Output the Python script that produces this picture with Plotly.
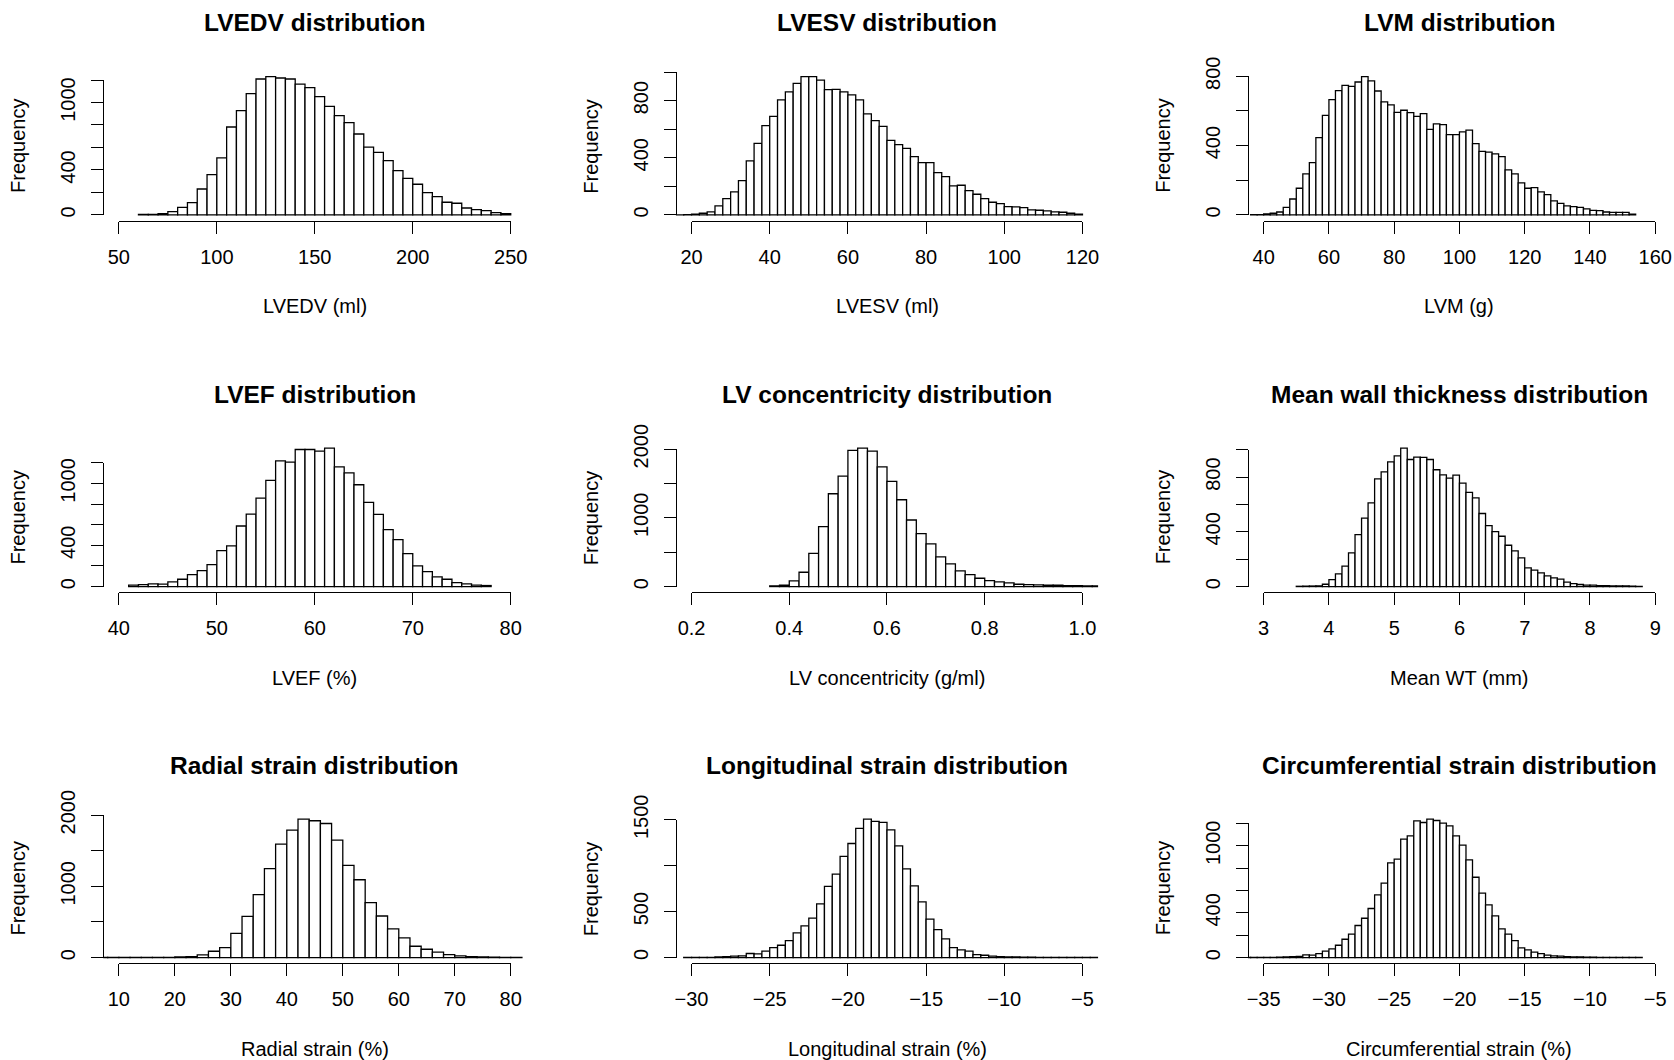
import plotly.graph_objects as go

W, H = 1674, 1060
FONT = "Liberation Sans, Arial, Helvetica, sans-serif"
MINUS = "\u2212"

# ---------------- data (histogram counts) ----------------
lvedv_start, lvedv_width = 60, 5
lvedv_counts = [5, 5, 12, 30, 68, 110, 231, 358, 507, 782, 927, 1079, 1209, 1230, 1218,
                1209, 1164, 1132, 1052, 966, 883, 821, 720, 604, 557, 483, 394, 326, 273,
                199, 163, 113, 104, 62, 47, 39, 21, 12]

lvesv_start, lvesv_width = 16, 2
lvesv_counts = [1, 2, 5, 12, 21, 63, 114, 161, 240, 378, 501, 625, 690, 805, 861, 921, 968,
                968, 944, 877, 879, 861, 840, 805, 707, 660, 620, 522, 492, 466, 408, 366,
                366, 296, 268, 203, 208, 170, 145, 114, 89, 79, 58, 56, 51, 35, 33, 28, 21,
                19, 12, 5]

lvm_start, lvm_width = 36, 2
lvm_counts = [2, 2, 6, 10, 17, 44, 92, 154, 237, 302, 446, 575, 665, 717, 748, 742, 767, 798,
              773, 715, 652, 635, 592, 604, 590, 569, 585, 494, 525, 521, 463, 463, 479, 490,
              412, 367, 363, 352, 337, 260, 237, 185, 154, 158, 133, 117, 81, 67, 52, 48, 44,
              35, 27, 25, 17, 15, 15, 15, 4]

lvef_start, lvef_width = 41, 1
lvef_counts = [13, 19, 26, 23, 45, 71, 116, 155, 213, 348, 394, 587, 703, 858, 1029, 1219,
               1206, 1329, 1329, 1313, 1342, 1161, 1103, 987, 816, 700, 552, 455, 319, 200,
               145, 94, 71, 39, 26, 13, 10]

conc_start, conc_width = 0.36, 0.02
conc_counts = [10, 19, 82, 208, 484, 872, 1351, 1608, 1981, 2015, 1971, 1743, 1530, 1264, 969,
               770, 620, 431, 329, 228, 174, 121, 87, 68, 53, 34, 29, 24, 19, 19, 15, 15, 10, 10]

wt_start, wt_width = 3.5, 0.1
wt_counts = [2, 3, 4, 5, 17, 51, 93, 149, 246, 380, 500, 612, 788, 839, 912, 956, 1012, 929,
             946, 944, 929, 854, 817, 793, 815, 756, 688, 649, 534, 446, 402, 368, 302, 261,
             210, 137, 120, 100, 78, 63, 54, 32, 22, 15, 10, 10, 7, 7, 5, 5, 4, 3, 2]

rad_start, rad_width = 6, 2
rad_counts = [1, 1, 1, 1, 2, 2, 3, 8, 14, 37, 89, 140, 341, 579, 883, 1248, 1593, 1790, 1944,
              1921, 1883, 1650, 1294, 1093, 771, 584, 402, 276, 159, 117, 75, 42, 23, 14, 9,
              5, 3, 2]

lon_start, lon_width = -30.5, 0.5
lon_counts = [2, 2, 3, 3, 7, 11, 15, 18, 44, 40, 69, 109, 134, 185, 269, 345, 429, 585, 774,
              908, 1101, 1242, 1406, 1507, 1482, 1471, 1391, 1217, 966, 781, 607, 418, 305,
              203, 109, 84, 69, 33, 25, 15, 11, 7, 7, 4, 4, 3, 2, 2, 2, 1, 1, 1, 1]

circ_start, circ_width = -36.5, 0.5
circ_counts = [1, 1, 1, 2, 2, 3, 5, 8, 11, 24, 21, 35, 57, 78, 110, 164, 209, 287, 352, 439,
               561, 666, 848, 881, 1060, 1090, 1224, 1209, 1239, 1227, 1203, 1179, 1090, 1006,
               875, 719, 576, 472, 373, 257, 209, 152, 87, 69, 48, 36, 21, 15, 12, 9, 6, 6, 4,
               3, 2, 2, 2, 1, 1, 1, 1]

# ---------------- axis ticks / labels ----------------
lvedv_xticks = [50, 100, 150, 200, 250]
lvesv_xticks = [20, 40, 60, 80, 100, 120]
lvm_xticks = [40, 60, 80, 100, 120, 140, 160]
lvef_xticks = [40, 50, 60, 70, 80]
conc_xticks = [0.2, 0.4, 0.6, 0.8, 1.0]
conc_xlabels = ["0.2", "0.4", "0.6", "0.8", "1.0"]
wt_xticks = [3, 4, 5, 6, 7, 8, 9]
rad_xticks = [10, 20, 30, 40, 50, 60, 70, 80]
lon_xticks = [-30, -25, -20, -15, -10, -5]
circ_xticks = [-35, -30, -25, -20, -15, -10, -5]

yt_1200 = [0, 200, 400, 600, 800, 1000, 1200]
yl_1200 = ["0", "", "400", "", "", "1000", ""]
yt_1000 = [0, 200, 400, 600, 800, 1000]
yl_1000 = ["0", "", "400", "", "800", ""]
yt_800 = [0, 200, 400, 600, 800]
yl_800 = ["0", "", "400", "", "800"]
yt_2000 = [0, 500, 1000, 1500, 2000]
yl_2000 = ["0", "", "1000", "", "2000"]
yt_1500 = [0, 500, 1000, 1500]
yl_1500 = ["0", "500", "", "1500"]


def fmt(v):
    s = f"{v:g}"
    return s.replace("-", MINUS)


panels = [
    dict(title="LVEDV distribution", xlab="LVEDV (ml)", start=lvedv_start, width=lvedv_width,
         counts=lvedv_counts, xlim=(50, 250), xt=lvedv_xticks, xl=[fmt(v) for v in lvedv_xticks],
         yt=yt_1200, yl=yl_1200),
    dict(title="LVESV distribution", xlab="LVESV (ml)", start=lvesv_start, width=lvesv_width,
         counts=lvesv_counts, xlim=(20, 120), xt=lvesv_xticks, xl=[fmt(v) for v in lvesv_xticks],
         yt=yt_1000, yl=yl_1000),
    dict(title="LVM distribution", xlab="LVM (g)", start=lvm_start, width=lvm_width,
         counts=lvm_counts, xlim=(40, 160), xt=lvm_xticks, xl=[fmt(v) for v in lvm_xticks],
         yt=yt_800, yl=yl_800),
    dict(title="LVEF distribution", xlab="LVEF (%)", start=lvef_start, width=lvef_width,
         counts=lvef_counts, xlim=(40, 80), xt=lvef_xticks, xl=[fmt(v) for v in lvef_xticks],
         yt=yt_1200, yl=yl_1200),
    dict(title="LV concentricity distribution", xlab="LV concentricity (g/ml)", start=conc_start,
         width=conc_width, counts=conc_counts, xlim=(0.2, 1.0), xt=conc_xticks, xl=conc_xlabels,
         yt=yt_2000, yl=yl_2000),
    dict(title="Mean wall thickness distribution", xlab="Mean WT (mm)", start=wt_start,
         width=wt_width, counts=wt_counts, xlim=(3, 9), xt=wt_xticks, xl=[fmt(v) for v in wt_xticks],
         yt=yt_1000, yl=yl_1000),
    dict(title="Radial strain distribution", xlab="Radial strain (%)", start=rad_start,
         width=rad_width, counts=rad_counts, xlim=(10, 80), xt=rad_xticks, xl=[fmt(v) for v in rad_xticks],
         yt=yt_2000, yl=yl_2000),
    dict(title="Longitudinal strain distribution", xlab="Longitudinal strain (%)", start=lon_start,
         width=lon_width, counts=lon_counts, xlim=(-30, -5), xt=lon_xticks, xl=[fmt(v) for v in lon_xticks],
         yt=yt_1500, yl=yl_1500),
    dict(title="Circumferential strain distribution", xlab="Circumferential strain (%)",
         start=circ_start, width=circ_width, counts=circ_counts, xlim=(-35, -5), xt=circ_xticks,
         xl=[fmt(v) for v in circ_xticks], yt=yt_1200, yl=yl_1200),
]

# ---------------- layout geometry (pixels) ----------------
col_left = [103.2, 675.9, 1248.0]
col_right = [526.4, 1098.1, 1670.9]
row_top = [71.1, 442.6, 813.6]
row_bottom = [220.5, 592.1, 963.1]

LW = 1.3
TICKLEN = 12
TICKFS = 20
TITLEFS = 24.5

fig = go.Figure()
layout = dict(width=W, height=H,
              margin=dict(l=0, r=0, t=0, b=0, pad=0, autoexpand=False),
              autosize=False,
              paper_bgcolor="white", plot_bgcolor="rgba(0,0,0,0)", showlegend=False,
              hovermode=False)
annotations = []

for i, p in enumerate(panels):
    r, c = divmod(i, 3)
    left, right = col_left[c], col_right[c]
    top, bottom = row_top[r], row_bottom[r]
    x0, x1 = p["xlim"]
    pad = 0.04 * (x1 - x0)
    u0, u1 = x0 - pad, x1 + pad
    M = max(p["counts"])
    v0, v1 = -0.04 * M, 1.04 * M
    n, m = i + 1, i + 10

    def px(t):
        return left + (t - u0) / (u1 - u0) * (right - left)

    def py(v):
        return bottom - (v - v0) / (v1 - v0) * (bottom - top)

    centers = [p["start"] + p["width"] * (k + 0.5) for k in range(len(p["counts"]))]
    fig.add_trace(go.Bar(
        x=centers, y=p["counts"], width=[p["width"]] * len(centers),
        xaxis=f"x{n}", yaxis=f"y{n}",
        marker=dict(color="white", line=dict(color="black", width=LW)),
        showlegend=False, hoverinfo="skip"))

    layout[f"xaxis{n}"] = dict(domain=[left / W, right / W], range=[u0, u1], visible=False,
                               anchor=f"y{n}", fixedrange=True)
    layout[f"yaxis{n}"] = dict(domain=[1 - bottom / H, 1 - top / H], range=[v0, v1],
                               visible=False, anchor=f"x{n}", fixedrange=True)

    # R-style axes (lines span only first to last tick)
    xt, yt = p["xt"], p["yt"]
    ex = 1e-6 * (xt[-1] - xt[0])
    ey = 1e-6 * (yt[-1] - yt[0])
    layout[f"xaxis{m}"] = dict(
        domain=[px(xt[0] - ex) / W, px(xt[-1] + ex) / W], range=[xt[0] - ex, xt[-1] + ex],
        anchor="free", position=1 - bottom / H, side="bottom",
        showline=True, linecolor="black", linewidth=LW,
        ticks="outside", ticklen=TICKLEN, tickwidth=LW, tickcolor="black",
        tickmode="array", tickvals=xt, ticktext=p["xl"], ticklabelstandoff=6,
        tickfont=dict(family=FONT, size=TICKFS, color="black"),
        showgrid=False, zeroline=False, fixedrange=True, automargin=False)
    layout[f"yaxis{m}"] = dict(
        domain=[1 - py(yt[0] - ey) / H, 1 - py(yt[-1] + ey) / H], range=[yt[0] - ey, yt[-1] + ey],
        anchor="free", position=left / W, side="left",
        showline=True, linecolor="black", linewidth=LW,
        ticks="outside", ticklen=TICKLEN, tickwidth=LW, tickcolor="black",
        tickmode="array", tickvals=yt, ticktext=p["yl"], tickangle=-90, ticklabelstandoff=8,
        tickfont=dict(family=FONT, size=TICKFS, color="black"),
        showgrid=False, zeroline=False, fixedrange=True, automargin=False)
    fig.add_trace(go.Scatter(x=[None], y=[None], xaxis=f"x{m}", yaxis=f"y{m}", mode="markers",
                             showlegend=False, hoverinfo="skip"))

    cx = (left + right) / 2
    annotations.append(dict(text=f"<b>{p['title']}</b>", x=cx / W, y=1 - (top - 48.5) / H,
                            xref="paper", yref="paper", xanchor="center", yanchor="middle",
                            showarrow=False, font=dict(family=FONT, size=TITLEFS, color="black")))
    annotations.append(dict(text=p["xlab"], x=cx / W, y=1 - (bottom + 85.5) / H,
                            xref="paper", yref="paper", xanchor="center", yanchor="middle",
                            showarrow=False, font=dict(family=FONT, size=TICKFS, color="black")))
    annotations.append(dict(text="Frequency", x=(left - 85) / W, y=1 - ((top + bottom) / 2) / H,
                            xref="paper", yref="paper", xanchor="center", yanchor="middle",
                            textangle=-90, showarrow=False,
                            font=dict(family=FONT, size=TICKFS, color="black")))

layout["annotations"] = annotations
fig.update_layout(**layout)
fig.write_html("out.html")
